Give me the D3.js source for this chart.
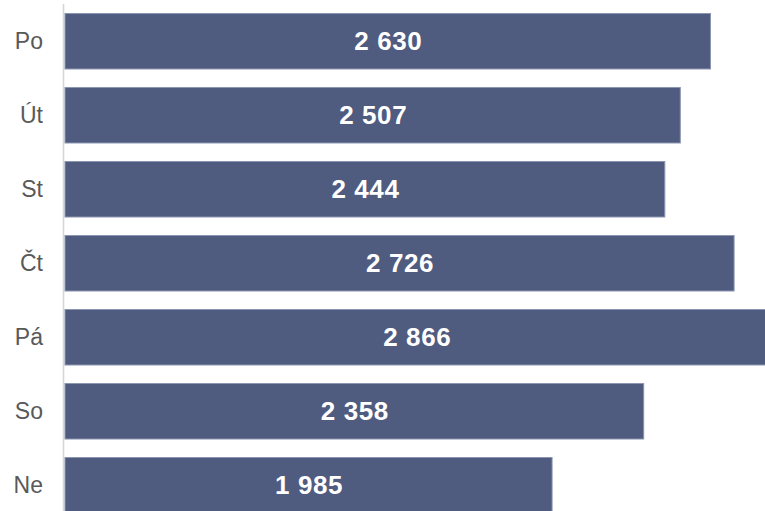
<!DOCTYPE html>
<html><head><meta charset="utf-8">
<script src="https://cdn.jsdelivr.net/npm/d3@7"></script>
<style>html,body{margin:0;padding:0;background:#fff;overflow:hidden}</style>
</head><body>
<svg id="c" width="765" height="511"></svg>
<script>
const days = ["Po","Út","St","Čt","Pá","So","Ne"];
const values = [2630,2507,2444,2726,2866,2358,1985];
const labels = ["2 630","2 507","2 444","2 726","2 866","2 358","1 985"];

const svg = d3.select("#c");
const x0 = 65, unit = 646/2630;
const x = d3.scaleLinear().domain([0,3000]).range([x0, x0 + 3000*unit]);
const y = d3.scaleBand().domain(days).range([4.25, 4.25 + 7*74]).paddingInner(0.2365).paddingOuter(0.118);

svg.append("line").attr("x1",63.5).attr("x2",63.5).attr("y1",4).attr("y2",511)
  .attr("stroke","#d6d6d6").attr("stroke-width",1.6);

const g = svg.selectAll("g.bar").data(days).enter().append("g").attr("class","bar");
g.append("rect")
  .attr("x", x(0))
  .attr("y", d => y(d) + 0.5)
  .attr("width", (d,i) => x(values[i]) - x(0) - 0.5)
  .attr("height", y.bandwidth() - 1)
  .attr("fill","#4f5b7f").attr("stroke","#8c95b1").attr("stroke-width",1);
g.append("text")
  .attr("x", (d,i) => (x(0) + x(values[i]))/2 + 0.3)
  .attr("y", d => y(d) + y.bandwidth()/2)
  .attr("dy","0.35em").attr("text-anchor","middle")
  .attr("fill","#fff").attr("font-family","Liberation Sans, Arial, sans-serif")
  .attr("font-weight","bold").attr("font-size",26).attr("letter-spacing","0.6px")
  .text((d,i) => labels[i]);
svg.selectAll("text.cat").data(days).enter().append("text").attr("class","cat")
  .attr("x",43).attr("y", d => y(d) + y.bandwidth()/2).attr("dy","0.35em")
  .attr("text-anchor","end").attr("fill","#595959")
  .attr("font-family","Liberation Sans, Arial, sans-serif").attr("font-size",23)
  .text(d => d);
</script>
</body></html>
